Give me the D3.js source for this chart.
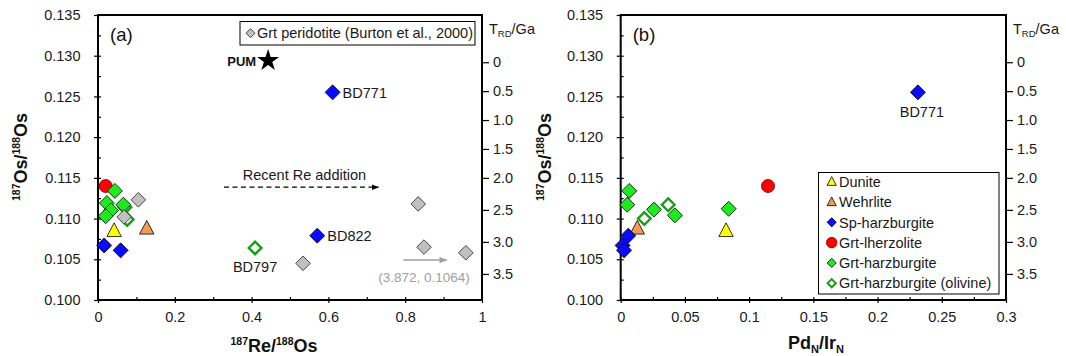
<!DOCTYPE html>
<html><head><meta charset="utf-8">
<script src="https://cdn.jsdelivr.net/npm/d3@7"></script>
<style>
body{margin:0;background:#fff}
text{font-family:"Liberation Sans",Arial,sans-serif}
</style>
</head><body>
<svg id="c" width="1066" height="356"></svg>
<script>
// ---------- DATA ----------
// Panel (a): [187Re/188Os, 187Os/188Os]
const aDunite      = [[0.042, 0.1085]];
const aWehrlite    = [[0.127, 0.1088]];
const aSpHarz      = [[0.016, 0.1067], [0.059, 0.1061], [0.611, 0.1255], [0.571, 0.1079]];
const aGrtLherz    = [[0.020, 0.1140]];
const aGrtHarz     = [[0.044, 0.1134], [0.023, 0.1119], [0.034, 0.1110], [0.020, 0.1103], [0.066, 0.1117]];
const aGrtHarzOl   = [[0.070, 0.1114], [0.076, 0.1099], [0.409, 0.1064]];
const aBurton      = [[0.105, 0.1123], [0.068, 0.1102], [0.534, 0.1045], [0.834, 0.1118], [0.849, 0.1065], [0.958, 0.1058]];
const aPUM         = [0.443, 0.1294];
const aLabelBD771  = [0.611, 0.1255];
const aLabelBD822  = [0.571, 0.1079];
const aLabelBD797  = [0.409, 0.1064];
const aReArrow     = [[0.328, 0.11385], [0.730, 0.11385]];
const aReText      = [0.5375, 0.1153];
const aBurtonArrow = [[0.795, 0.1049], [0.908, 0.1049]];
const aBurtonText  = [0.849, 0.1028];

// Panel (b): [PdN/IrN, 187Os/188Os]
const bDunite      = [[0.082, 0.1085]];
const bWehrlite    = [[0.0129, 0.1088]];
const bSpHarz      = [[0.0059, 0.1079], [0.0015, 0.1067], [0.0026, 0.1061], [0.2314, 0.1255]];
const bGrtLherz    = [[0.1147, 0.1140]];
const bGrtHarz     = [[0.0067, 0.1134], [0.0051, 0.1117], [0.0259, 0.1111], [0.0422, 0.1104], [0.0841, 0.1112]];
const bGrtHarzOl   = [[0.0184, 0.1100], [0.0370, 0.1117]];
const bLabelBD771  = [0.2314, 0.1255];

// Axes / ticks
const osTicks      = [0.100, 0.105, 0.110, 0.115, 0.120, 0.125, 0.130, 0.135];
const osTickLabels = ["0.100", "0.105", "0.110", "0.115", "0.120", "0.125", "0.130", "0.135"];
const osMinor      = [0.1025, 0.1075, 0.1125, 0.1175, 0.1225, 0.1275, 0.1325];
const reTicks      = [0, 0.2, 0.4, 0.6, 0.8, 1];
const reTickLabels = ["0", "0.2", "0.4", "0.6", "0.8", "1"];
const reMinor      = [0.1, 0.3, 0.5, 0.7, 0.9];
const pdTicks      = [0, 0.05, 0.1, 0.15, 0.2, 0.25, 0.3];
const pdTickLabels = ["0", "0.05", "0.1", "0.15", "0.2", "0.25", "0.3"];
const pdMinor      = [0.025, 0.075, 0.125, 0.175, 0.225, 0.275];
const trdTicks     = [0, 0.5, 1, 1.5, 2, 2.5, 3, 3.5];
const trdTickLabels= ["0", "0.5", "1.0", "1.5", "2.0", "2.5", "3.0", "3.5"];
const trdAnchorT   = [0, 2, 3.5];          // T_RD (Ga)
const trdAnchorOs  = [0.1292, 0.1150, 0.1032]; // corresponding 187Os/188Os

const legendB = ["Dunite", "Wehrlite", "Sp-harzburgite", "Grt-lherzolite", "Grt-harzburgite", "Grt-harzburgite (olivine)"];
const legendA = ["Grt peridotite (Burton et al., 2000)"];

// ---------- STYLE ----------
const FONT = 14.5;
const style = {
  dunite:  {shape:"tri",  fill:"#ffff00", stroke:"#000", sw:0.8},
  wehr:    {shape:"tri",  fill:"#f39a57", stroke:"#000", sw:0.8},
  sp:      {shape:"dia",  fill:"#0a0aff", stroke:"#000", sw:0.8},
  lherz:   {shape:"circ", fill:"#ff0000", stroke:"#700", sw:0.8},
  harz:    {shape:"dia",  fill:"#1fea1f", stroke:"#000", sw:0.8},
  ol:      {shape:"odia", fill:"#fff",    stroke:"#13a013", sw:2.4},
  burton:  {shape:"dia",  fill:"#c0c0c0", stroke:"#222", sw:0.8}
};

function shapePath(shape, s) {
  if (shape === "dia") return `M0,${-s}L${s},0L0,${s}L${-s},0Z`;
  if (shape === "odia") { const t = s - 1.2; return `M0,${-t}L${t},0L0,${t}L${-t},0Z`; }
  if (shape === "tri") { const h = s * 1.9; return `M0,${-h*0.58}L${s},${h*0.42}L${-s},${h*0.42}Z`; }
  return null;
}
function drawMarkers(g, pts, st, x, y, s) {
  pts.forEach(p => {
    const cx = x(p[0]), cy = y(p[1]);
    if (st.shape === "circ") {
      g.append("circle").attr("cx", cx).attr("cy", cy).attr("r", s * 0.87)
        .attr("fill", st.fill).attr("stroke", st.stroke).attr("stroke-width", st.sw);
    } else {
      g.append("path").attr("d", shapePath(st.shape, s)).attr("transform", `translate(${cx},${cy})`)
        .attr("fill", st.fill).attr("stroke", st.stroke).attr("stroke-width", st.sw)
        .attr("stroke-linejoin", "miter");
    }
  });
}

const svg = d3.select("#c");
svg.append("rect").attr("width", 1066).attr("height", 356).attr("fill", "#fff");
svg.append("defs").html(`
  <marker id="ah" viewBox="0 0 10 10" refX="9" refY="5" markerWidth="7" markerHeight="7" orient="auto" markerUnits="userSpaceOnUse">
    <path d="M0,1L10,5L0,9Z" fill="#000"/></marker>
  <marker id="ahg" viewBox="0 0 10 10" refX="9" refY="5" markerWidth="8" markerHeight="8" orient="auto" markerUnits="userSpaceOnUse">
    <path d="M0,1L10,5L0,9Z" fill="#a0a0a0"/></marker>`);

const yTop = 15, yBot = 300;

function panel(cfg) {
  const x = d3.scaleLinear().domain(cfg.xDomain).range([cfg.x0, cfg.x1]);
  const y = d3.scaleLinear().domain([0.100, 0.135]).range([yBot, yTop]);
  const yT = d3.scaleLinear().domain(trdAnchorT).range(trdAnchorOs.map(v => y(v)));
  const g = svg.append("g");

  const fmt = (labels, vals) => (d) => labels[vals.findIndex(v => Math.abs(v - d) < 1e-9)];
  const styleAxis = a => {
    a.select(".domain").remove();
    a.attr("font-size", FONT).attr("font-family", "Liberation Sans, Arial, sans-serif");
    a.selectAll("line").attr("stroke", "#000").attr("stroke-width", 1.2);
    a.selectAll("text").attr("fill", "#1a1a1a");
  };
  // bottom axis
  g.append("g").attr("transform", `translate(0,${yBot})`)
    .call(d3.axisBottom(x).tickValues(cfg.xTicks).tickFormat(fmt(cfg.xLabels, cfg.xTicks)).tickSize(3).tickPadding(8.6))
    .call(styleAxis);
  g.append("g").attr("transform", `translate(0,${yBot})`)
    .call(d3.axisBottom(x).tickValues(cfg.xTicks.concat(cfg.xMinor)).tickFormat("").tickSize(-3))
    .call(styleAxis);
  // left axis
  g.append("g").attr("transform", `translate(${cfg.x0},0)`)
    .call(d3.axisLeft(y).tickValues(osTicks).tickFormat(fmt(osTickLabels, osTicks)).tickSize(4).tickPadding(13.5))
    .call(styleAxis);
  g.append("g").attr("transform", `translate(${cfg.x0},0)`)
    .call(d3.axisLeft(y).tickValues(osTicks.concat(osMinor)).tickFormat("").tickSize(-3))
    .call(styleAxis);
  // right axis (T_RD)
  g.append("g").attr("transform", `translate(${cfg.x1},0)`)
    .call(d3.axisRight(yT).tickValues(trdTicks).tickFormat(fmt(trdTickLabels, trdTicks)).tickSize(7).tickPadding(4))
    .call(styleAxis);
  // frame
  g.append("rect").attr("x", cfg.x0).attr("y", yTop).attr("width", cfg.x1 - cfg.x0).attr("height", yBot - yTop)
    .attr("fill", "none").attr("stroke", "#000").attr("stroke-width", 2);

  // T_RD/Ga label
  const tl = g.append("text").attr("x", cfg.x1 + 7).attr("y", 34).attr("font-size", FONT).attr("fill", "#1a1a1a");
  tl.append("tspan").text("T");
  tl.append("tspan").attr("font-size", 9.5).attr("dy", 3).text("RD");
  tl.append("tspan").attr("dy", -3).text("/Ga");

  // panel letter
  g.append("text").attr("x", cfg.x0 + 12).attr("y", 41).attr("font-size", 18.5).attr("fill", "#111").text(cfg.letter);

  // y title
  const yt = g.append("text").attr("transform", `translate(${cfg.yTitleX},157) rotate(-90)`)
    .attr("text-anchor", "middle").attr("font-weight", "bold").attr("font-size", 18).attr("fill", "#111");
  yt.append("tspan").attr("font-size", 10.5).attr("dy", -7).text("187");
  yt.append("tspan").attr("dy", 7).text("Os/");
  yt.append("tspan").attr("font-size", 10.5).attr("dy", -7).text("188");
  yt.append("tspan").attr("dy", 7).text("Os");

  return {g, x, y};
}

// ---------- PANEL A ----------
const A = panel({x0: 98, x1: 482, xDomain: [0, 1], xTicks: reTicks, xLabels: reTickLabels, xMinor: reMinor, letter: "(a)", yTitleX: 27});
{
  const {g, x, y} = A;
  const xt = g.append("text").attr("x", 274).attr("y", 352).attr("text-anchor", "middle")
    .attr("font-weight", "bold").attr("font-size", 18).attr("fill", "#111");
  xt.append("tspan").attr("font-size", 10.5).attr("dy", -7).text("187");
  xt.append("tspan").attr("dy", 7).text("Re/");
  xt.append("tspan").attr("font-size", 10.5).attr("dy", -7).text("188");
  xt.append("tspan").attr("dy", 7).text("Os");

  // arrows
  const line = d3.line().x(d => x(d[0])).y(d => y(d[1]));
  g.append("path").attr("d", line(aReArrow)).attr("stroke", "#000").attr("stroke-width", 1.3)
    .attr("stroke-dasharray", "5,3.5").attr("fill", "none").attr("marker-end", "url(#ah)");
  g.append("text").attr("x", x(aReText[0])).attr("y", y(aReText[1]) + 5).attr("text-anchor", "middle")
    .attr("font-size", FONT).attr("fill", "#1a1a1a").text("Recent Re addition");
  g.append("path").attr("d", line(aBurtonArrow)).attr("stroke", "#a0a0a0").attr("stroke-width", 1.5)
    .attr("fill", "none").attr("marker-end", "url(#ahg)");
  g.append("text").attr("x", x(aBurtonText[0])).attr("y", y(aBurtonText[1]) + 5).attr("text-anchor", "middle")
    .attr("font-size", 13.5).attr("fill", "#a0a0a0").text("(3.872, 0.1064)");

  // markers
  drawMarkers(g, aGrtHarzOl, style.ol, x, y, 7.5);
  drawMarkers(g, aGrtLherz, style.lherz, x, y, 7.5);
  drawMarkers(g, aGrtHarz, style.harz, x, y, 7.5);
  drawMarkers(g, aSpHarz, style.sp, x, y, 7.5);
  drawMarkers(g, aDunite, style.dunite, x, y, 7.2);
  drawMarkers(g, aWehrlite, style.wehr, x, y, 7.2);
  drawMarkers(g, aBurton, style.burton, x, y, 7.3);

  // PUM star
  g.append("path").attr("d", d3.symbol(d3.symbolStar, 150)()).attr("transform", `translate(${x(aPUM[0])},${y(aPUM[1])})`)
    .attr("fill", "#000");
  g.append("text").attr("x", x(aPUM[0]) - 12).attr("y", y(aPUM[1]) + 5).attr("text-anchor", "end")
    .attr("font-weight", "bold").attr("font-size", 13).attr("fill", "#111").text("PUM");

  // sample labels
  g.append("text").attr("x", x(aLabelBD771[0]) + 10).attr("y", y(aLabelBD771[1]) + 5.5)
    .attr("font-size", FONT).attr("fill", "#1a1a1a").text("BD771");
  g.append("text").attr("x", x(aLabelBD822[0]) + 10).attr("y", y(aLabelBD822[1]) + 5.5)
    .attr("font-size", FONT).attr("fill", "#1a1a1a").text("BD822");
  g.append("text").attr("x", x(aLabelBD797[0])).attr("y", y(aLabelBD797[1]) + 24)
    .attr("text-anchor", "middle").attr("font-size", FONT).attr("fill", "#1a1a1a").text("BD797");

  // legend
  const lg = g.append("g");
  lg.append("rect").attr("x", 240).attr("y", 21.5).attr("width", 235).attr("height", 23.5)
    .attr("fill", "#fff").attr("stroke", "#000").attr("stroke-width", 1);
  lg.append("path").attr("d", shapePath("dia", 4.5)).attr("transform", "translate(250.5,33.2)")
    .attr("fill", "#c0c0c0").attr("stroke", "#222").attr("stroke-width", 0.8);
  lg.append("text").attr("x", 257).attr("y", 38.3).attr("font-size", FONT).attr("fill", "#1a1a1a").text(legendA[0]);
}

// ---------- PANEL B ----------
const B = panel({x0: 620.7, x1: 1006, xDomain: [0, 0.3], xTicks: pdTicks, xLabels: pdTickLabels, xMinor: pdMinor, letter: "(b)", yTitleX: 551});
{
  const {g, x, y} = B;
  const xt = g.append("text").attr("x", 816).attr("y", 349).attr("text-anchor", "middle")
    .attr("font-weight", "bold").attr("font-size", 18).attr("fill", "#111");
  xt.append("tspan").text("Pd");
  xt.append("tspan").attr("font-size", 11).attr("dy", 4).text("N");
  xt.append("tspan").attr("dy", -4).text("/Ir");
  xt.append("tspan").attr("font-size", 11).attr("dy", 4).text("N");

  drawMarkers(g, bDunite, style.dunite, x, y, 7.2);
  drawMarkers(g, bWehrlite, style.wehr, x, y, 7.2);
  drawMarkers(g, bGrtHarzOl, style.ol, x, y, 7.5);
  drawMarkers(g, bGrtHarz, style.harz, x, y, 7.5);
  drawMarkers(g, bSpHarz, style.sp, x, y, 7.5);
  drawMarkers(g, bGrtLherz, style.lherz, x, y, 7.5);

  g.append("text").attr("x", x(bLabelBD771[0]) + 4).attr("y", y(bLabelBD771[1]) + 25)
    .attr("text-anchor", "middle").attr("font-size", FONT).attr("fill", "#1a1a1a").text("BD771");

  // legend
  const lg = g.append("g");
  lg.append("rect").attr("x", 818.5).attr("y", 172.5).attr("width", 180.5).attr("height", 121.5)
    .attr("fill", "#fff").attr("stroke", "#000").attr("stroke-width", 1);
  const keys = [style.dunite, style.wehr, style.sp, style.lherz, style.harz, style.ol];
  legendB.forEach((name, i) => {
    const cy = 181.7 + i * 20.3, cx = 831.7;
    const st = keys[i];
    if (st.shape === "circ") {
      lg.append("circle").attr("cx", cx).attr("cy", cy).attr("r", 5.3).attr("fill", st.fill)
        .attr("stroke", st.stroke).attr("stroke-width", 0.8);
    } else {
      const s = st.shape === "tri" ? 4.6 : (st.shape === "odia" ? 5.3 : 4.6);
      lg.append("path").attr("d", shapePath(st.shape, s)).attr("transform", `translate(${cx},${cy})`)
        .attr("fill", st.fill).attr("stroke", st.stroke).attr("stroke-width", st.shape === "odia" ? 2 : 0.8);
    }
    lg.append("text").attr("x", 839).attr("y", cy + 5.2).attr("font-size", FONT).attr("fill", "#1a1a1a").text(name);
  });
}
</script>
</body></html>
